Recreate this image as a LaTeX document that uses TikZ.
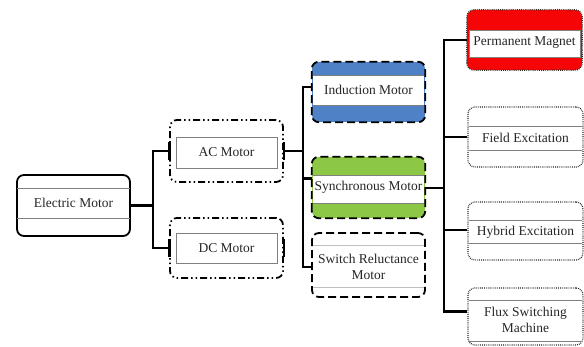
\documentclass[tikz,border=0pt]{standalone}
\usepackage{fontspec}
\setmainfont{Liberation Serif}
\definecolor{imblue}{RGB}{79,129,199}
\definecolor{smgreen}{RGB}{140,200,70}
\definecolor{pmred}{RGB}{245,5,5}
\tikzset{
  conn/.style={line width=2.8pt, black},
  txt/.style={font=\fontsize{13.5}{16}\selectfont, align=center, text=black!85, inner sep=0pt},
  box/.style={minimum width=113pt, minimum height=60pt, rounded corners=7pt, inner sep=0pt},
  solidln/.style={draw=black, line width=1.8pt},
  dashdotln/.style={draw=black, line width=1.8pt, dash pattern=on 7pt off 3pt on 1.5pt off 3pt on 1.5pt off 3pt},
  dashln/.style={draw=black, line width=1.8pt, dash pattern=on 8pt off 4pt},
  dotln/.style={draw=black!85, line width=1.2pt, dash pattern=on 0.8pt off 1.1pt},
  innerln/.style={draw=gray, line width=0.7pt},
}
\begin{document}
\begin{tikzpicture}[x=1pt,y=-1pt]
\useasboundingbox[fill=white] (0,0) rectangle (584,347);

% ---------- Electric Motor ----------
\node[box, minimum height=61pt, solidln, fill=white] (em) at (73.5,205.5) {};
\draw[innerln] (17,188) -- (130,188) (17,218) -- (130,218);
\node[txt] (emt) at (73.5,203) {Electric Motor};

% ---------- AC / DC ----------
\node[box, minimum height=62pt, dashdotln] (ac) at (226.5,151) {};
\node[innerln, minimum width=101pt, minimum height=31pt, inner sep=0pt] (aci) at (226.5,152.5) {};
\node[txt] (act) at (226.5,152.5) {AC Motor};

\node[box, dashdotln] (dc) at (226.5,248) {};
\node[innerln, minimum width=101pt, minimum height=30pt, inner sep=0pt] (dci) at (226.5,248) {};
\node[txt] (dct) at (226.5,248) {DC Motor};

% ---------- Induction ----------
\node[box, fill=imblue] (im) at (368.5,92) {};
\fill[white] (313,75) rectangle (424,105);
\draw[innerln] (313,75) -- (424,75) (313,105) -- (424,105);
\draw[dashln, rounded corners=7pt] (im.south west) rectangle (im.north east);
\node[txt] (imt) at (368.5,90) {Induction Motor};

% ---------- Synchronous ----------
\node[box, minimum height=61pt, fill=smgreen] (sm) at (368.5,187.5) {};
\fill[white] (313,175) rectangle (424,203);
\draw[innerln] (313,175) -- (424,175) (313,203) -- (424,203);
\draw[dashln, rounded corners=7pt] (sm.south west) rectangle (sm.north east);
\node[txt] (smt) at (368.5,187) {Synchronous Motor};

% ---------- Switch Reluctance ----------
\node[box, minimum height=64pt, dashln] (srm) at (368.5,265) {};
\draw[innerln, draw=gray!50] (313,245) -- (424,245) (313,287) -- (424,287);
\node[txt] (srmt) at (368.5,267) {Switch Reluctance\\Motor};

% ---------- Permanent Magnet ----------
\node[box, minimum width=115pt, fill=pmred] (pm) at (524.5,40) {};
\fill[white] (469,30) rectangle (580,57);
\draw[innerln] (469,30) rectangle (580,57);
\draw[dotln, rounded corners=7pt] (pm.south west) rectangle (pm.north east);
\node[txt] (pmt) at (524.5,43) {Permanent Magnet};

% ---------- Field Excitation ----------
\node[box, minimum width=115pt, dotln] (fe) at (525.5,137) {};
\draw[innerln] (469,126) -- (582,126) (469,150) -- (582,150);
\node[txt] (fet) at (525.5,138) {Field Excitation};

% ---------- Hybrid Excitation ----------
\node[box, minimum width=115pt, minimum height=58pt, dotln] (he) at (525.5,231) {};
\draw[innerln] (469,220) -- (582,220) (469,243) -- (582,243);
\node[txt] (het) at (525.5,232) {Hybrid Excitation};

% ---------- Flux Switching ----------
\node[box, minimum width=115pt, minimum height=57pt, dotln] (fsm) at (525.5,316.5) {};
\draw[innerln] (469,300) -- (582,300) (469,341) -- (582,341);
\node[txt] (fsmt) at (525.5,320) {Flux Switching\\Machine};

% ---------- Connectors ----------
\coordinate (j1) at (153,205.5);
\draw[conn] (em.east) -- (j1);
\draw[conn] (j1) |- (ac.west);
\draw[conn] (j1) |- (dc.west);
\draw[conn] ([yshift=-9pt]ac.west) -- ([yshift=9pt]ac.west);
\draw[conn] ([yshift=-9pt]dc.west) -- ([yshift=9pt]dc.west);
\draw[conn] ([yshift=-9pt]ac.east) -- ([yshift=9pt]ac.east);
\draw[conn] ([yshift=-9pt]dc.east) -- ([yshift=9pt]dc.east);

\coordinate (j2) at (303,151);
\draw[conn] (ac.east) -- (j2);
\draw[conn] (j2) |- ([yshift=5pt]im.west);
\draw[conn] (j2) |- ([yshift=9pt]sm.west);
\draw[conn] (j2) |- ([yshift=-2pt]srm.west);

\coordinate (j3) at (444,188);
\draw[conn] (sm.east |- j3) -- (j3);
\draw[conn] (j3) |- (pm.west);
\draw[conn] (j3) |- (fe.west);
\draw[conn] (j3) |- ([yshift=1pt]he.west);
\draw[conn] (j3) |- ([yshift=5pt]fsm.west);
\end{tikzpicture}
\end{document}
